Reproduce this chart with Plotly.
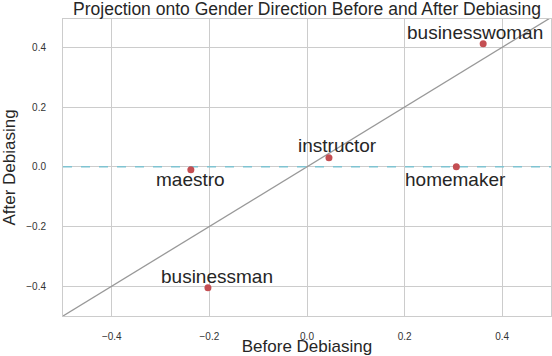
import plotly.graph_objects as go

# word projections before and after debiasing
words = ["businesswoman", "instructor", "homemaker", "maestro", "businessman"]
before = [0.361, 0.045, 0.306, -0.238, -0.203]
after = [0.412, 0.030, 0.000, -0.010, -0.405]

# label offsets in pixels (x, y)
label_shift = [(-8, 11), (9, 12), (-1, -13), (0, -10), (9, 11)]

tick_vals = [-0.4, -0.2, 0.0, 0.2, 0.4]
font = "Liberation Sans, Arial, sans-serif"

fig = go.Figure()

# identity line y = x
fig.add_trace(go.Scatter(x=[-0.5, 0.5], y=[-0.5, 0.5], mode="lines",
                         line=dict(color="#999999", width=1.3),
                         hoverinfo="skip", showlegend=False))

# zero line after debiasing
fig.add_trace(go.Scatter(x=[-0.5, 0.5], y=[0, 0], mode="lines",
                         line=dict(color="#7fc3d1", width=1.5, dash="dash"),
                         hoverinfo="skip", showlegend=False))

fig.add_trace(go.Scatter(x=before, y=after, mode="markers",
                         marker=dict(color="#c44e52", size=7),
                         text=words, showlegend=False))

for w, xb, ya, (dx, dy) in zip(words, before, after, label_shift):
    fig.add_annotation(x=xb, y=ya, text=w, showarrow=False,
                       xshift=dx, yshift=dy,
                       font=dict(family=font, size=19, color="#262626"))

fig.update_layout(
    width=552, height=356,
    margin=dict(l=63, r=1, t=19, b=40, autoexpand=False),
    paper_bgcolor="white", plot_bgcolor="white",
    font=dict(family=font, color="#262626"),
    title=dict(text="Projection onto Gender Direction Before and After Debiasing",
               x=0.5, xanchor="center", xref="paper",
               y=1 - 9 / 356, yanchor="middle", yref="container",
               font=dict(size=17.5, color="#262626")),
)

fig.update_xaxes(range=[-0.5, 0.5], tickvals=tick_vals, tickformat=".1f",
                 showgrid=True, gridcolor="#cccccc", gridwidth=1,
                 zeroline=False, showline=True, linecolor="#cccccc", mirror=True,
                 automargin=False,
                 ticklabelstandoff=11, tickfont=dict(size=10, color="#333333"),
                 title=dict(text="Before Debiasing", standoff=3,
                            font=dict(size=17, color="#262626")))
fig.update_yaxes(range=[-0.5, 0.495], tickvals=tick_vals, tickformat=".1f",
                 showgrid=True, gridcolor="#cccccc", gridwidth=1,
                 zeroline=False, showline=True, linecolor="#cccccc", mirror=True,
                 automargin=False,
                 ticklabelstandoff=14, tickfont=dict(size=10, color="#333333"),
                 title=dict(text="After Debiasing", standoff=6,
                            font=dict(size=17, color="#262626")))

# drop the default page margin so the figure sits at the window corner
fig.write_html("out.html", config={"displayModeBar": False},
               post_script="document.body.style.margin='0';")
